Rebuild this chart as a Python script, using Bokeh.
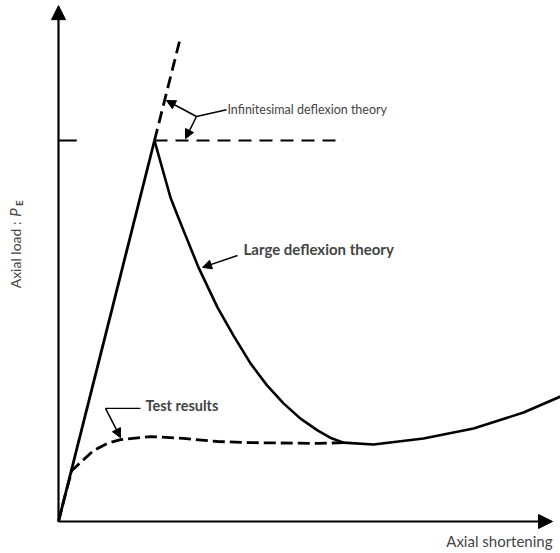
import math
from bokeh.plotting import figure
from bokeh.models import Range1d, Arrow, NormalHead, Label
from bokeh.embed import file_html
from bokeh.resources import INLINE

# x: axial shortening (peak = 1), y: axial load / P_E
elastic_x = [0.0, 1.0]
elastic_y = [0.0, 1.0]
infinitesimal_x = [1.0, 1.26]
infinitesimal_y = [1.0, 1.26]
euler_x = [1.0, 2.97]
euler_y = [1.0, 1.0]
large_x = [1.0, 1.052, 1.11, 1.167, 1.245, 1.323, 1.458, 1.656, 1.823, 2.0, 2.17, 2.344,
           2.521, 2.698, 2.83, 2.969, 3.281, 3.802, 4.323, 4.844, 5.229]
large_y = [1.0, 0.953, 0.901, 0.850, 0.800, 0.751, 0.667, 0.562, 0.488, 0.415, 0.358, 0.310,
           0.270, 0.239, 0.220, 0.207, 0.202, 0.218, 0.244, 0.286, 0.328]
test_x = [0.0, 0.07, 0.14, 0.229, 0.365, 0.51, 0.646, 0.958, 1.302,
          1.656, 2.0, 2.698, 2.969]
test_y = [0.0, 0.07, 0.134, 0.155, 0.186, 0.205, 0.215, 0.223, 0.218,
          0.210, 0.207, 0.205, 0.207]

FONT = "Lato"

p = figure(width=560, height=553, output_backend="svg", toolbar_location=None,
           x_range=Range1d(-0.6042, 5.2292), y_range=Range1d(-0.084, 1.3675),
           min_border=0, x_axis_type=None, y_axis_type=None)
p.outline_line_color = None
p.grid.visible = False
p.background_fill_color = "white"
p.border_fill_color = "white"

# axes with arrow heads
p.add_layout(Arrow(x_start=0, y_start=0, x_end=0, y_end=1.354, line_width=2.2,
                   line_color="black",
                   end=NormalHead(size=14, fill_color="black", line_color="black")))
p.add_layout(Arrow(x_start=0, y_start=0, x_end=5.146, y_end=0, line_width=2.2,
                   line_color="black",
                   end=NormalHead(size=14, fill_color="black", line_color="black")))
# P_E tick
p.line([0, 0.19], [1.0, 1.0], line_width=2.2, line_color="black")

# curves
p.line(elastic_x, elastic_y, line_width=2.8, line_color="black")
p.line(infinitesimal_x, infinitesimal_y, line_width=2.8, line_color="black", line_dash="12 6")
p.line(euler_x, euler_y, line_width=1.8, line_color="black", line_dash="13 8")
p.line(large_x, large_y, line_width=2.6, line_color="black", line_join="round")
p.line(test_x, test_y, line_width=2.8, line_color="black", line_dash="12 5")

def head():
    return NormalHead(size=9, fill_color="black", line_color="black")

# infinitesimal leader
p.line([1.75, 1.4375], [1.081, 1.063], line_width=1.5, line_color="black")
p.add_layout(Arrow(x_start=1.4375, y_start=1.063, x_end=1.125, y_end=1.105,
                   line_width=1.5, end=head()))
p.add_layout(Arrow(x_start=1.4375, y_start=1.063, x_end=1.323, y_end=1.005,
                   line_width=1.5, end=head()))
p.add_layout(Label(x=1.76, y=1.081, text="Infinitesimal deflexion theory",
                   text_font=FONT, text_font_size="12.5px", text_baseline="middle"))

# large deflexion leader
p.add_layout(Arrow(x_start=1.865, y_start=0.698, x_end=1.5, y_end=0.667,
                   line_width=1.5, end=head()))
p.add_layout(Label(x=1.927, y=0.714, text="Large deflexion theory",
                   text_font=FONT, text_font_size="15px", text_font_style="bold",
                   text_baseline="middle"))

# test results leader
p.line([0.49, 0.854], [0.297, 0.297], line_width=1.3, line_color="black")
p.add_layout(Arrow(x_start=0.49, y_start=0.297, x_end=0.646, y_end=0.22,
                   line_width=1.5, end=head()))
p.add_layout(Label(x=0.906, y=0.304, text="Test results",
                   text_font=FONT, text_font_size="14.5px", text_font_style="bold",
                   text_baseline="middle"))

# axis labels
p.add_layout(Label(x=5.146, y=-0.0525, text="Axial shortening", text_align="right",
                   text_font=FONT, text_font_size="15px", text_baseline="middle"))
p.add_layout(Label(x=-0.448, y=0.612, text="Axial load : ", angle=math.pi / 2,
                   text_font=FONT, text_font_size="14px", text_baseline="middle"))
p.add_layout(Label(x=-0.448, y=0.80, text="P", angle=math.pi / 2,
                   text_font=FONT, text_font_size="15px", text_font_style="italic",
                   text_baseline="middle"))
p.add_layout(Label(x=-0.448, y=0.828, x_offset=4, text="E", angle=math.pi / 2,
                   text_font=FONT, text_font_size="10px", text_font_style="bold",
                   text_baseline="middle"))

open("out.html", "w").write(file_html(p, INLINE))
